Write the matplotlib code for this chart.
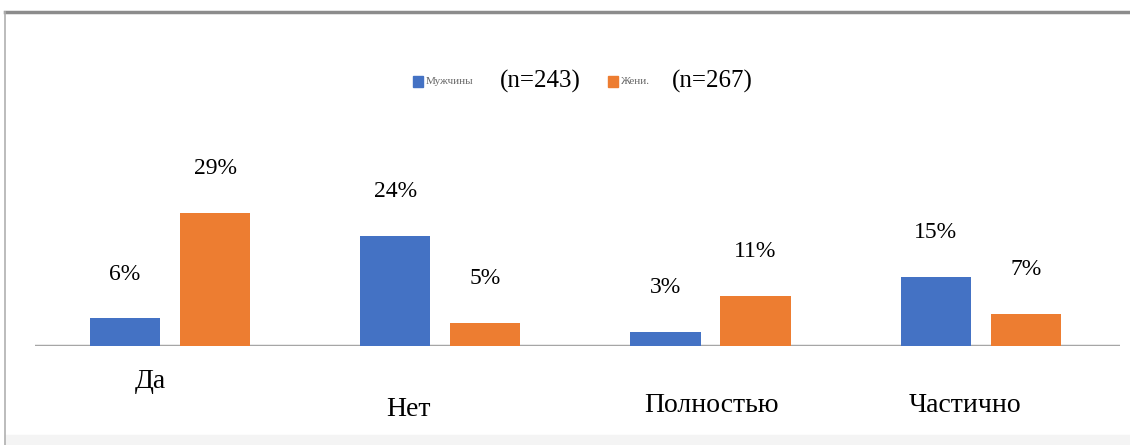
import numpy as np
import matplotlib
matplotlib.use("Agg")
import matplotlib.pyplot as plt
from matplotlib.patches import Rectangle
from matplotlib.lines import Line2D
import matplotlib.transforms as mtransforms

categories = ['Да', 'Нет', 'Полностью', 'Частично']
men = [6, 24, 3, 15]
women = [29, 5, 11, 7]
men_name = 'Мужчины'
women_name = 'Жени.'
men_n = '(n=243)'
women_n = '(n=267)'

blue = '#4472C4'
orange = '#ED7D31'
serif = ['Liberation Serif', 'DejaVu Serif']

fig = plt.figure(figsize=(11.3, 4.45), dpi=100)
ax = fig.add_axes([35 / 1130, 99 / 445, 1085 / 1130, 246 / 445])

x = np.arange(len(categories))
w = 0.26
b1 = ax.bar(x - 0.1665, men, w, color=blue)
b2 = ax.bar(x + 0.1665, women, w, color=orange)

for bars in (b1, b2):
    for r in bars:
        ax.annotate(f'{r.get_height():g}%', (r.get_x() + r.get_width() / 2, r.get_height()),
                    xytext=(0, 32), textcoords='offset points', ha='center', va='center',
                    fontsize=17, family=serif)

ax.set_xlim(-0.5, 3.515)
ax.set_ylim(0, 53.6)
ax.axis('off')
ax.axhline(0, color='#a6a6a6', lw=2.5, zorder=0)

# category labels (positions in pixels)
lab_dx = [-0.074, -0.118, 0.004, -0.06]
lab_y = [382, 410, 405, 405]
trans = mtransforms.blended_transform_factory(ax.transData, fig.transFigure)
for i, c in enumerate(categories):
    ax.text(i + lab_dx[i], 1 - lab_y[i] / 445, c, transform=trans, ha='center', va='center',
            fontsize=20, family=serif)

# legend
for px, col, name, n, nx in [(413, blue, men_name, men_n, 540), (608, orange, women_name, women_n, 712)]:
    fig.patches.append(Rectangle((px / 1130, 1 - 87 / 445), 10 / 1130, 11 / 445,
                                 transform=fig.transFigure, color=col))
    fig.text((px + 13) / 1130, 1 - 81 / 445, name, fontsize=8, color='#666666',
             ha='left', va='center', family=serif)
    fig.text(nx / 1130, 1 - 81 / 445, n, fontsize=18, ha='center', va='center', family=serif)

# frame
fig.add_artist(Line2D([5 / 1130, 1], [1 - 12 / 445, 1 - 12 / 445], color='#8c8c8c', lw=2.5,
                      transform=fig.transFigure))
fig.add_artist(Line2D([5 / 1130, 5 / 1130], [0, 1 - 12 / 445], color='#b0b0b0', lw=1.2,
                      transform=fig.transFigure))
fig.patches.append(Rectangle((5 / 1130, 0), 1, 10 / 445, transform=fig.transFigure,
                             color='#f4f4f4', zorder=-1))

fig.savefig('out.png', dpi=100)
